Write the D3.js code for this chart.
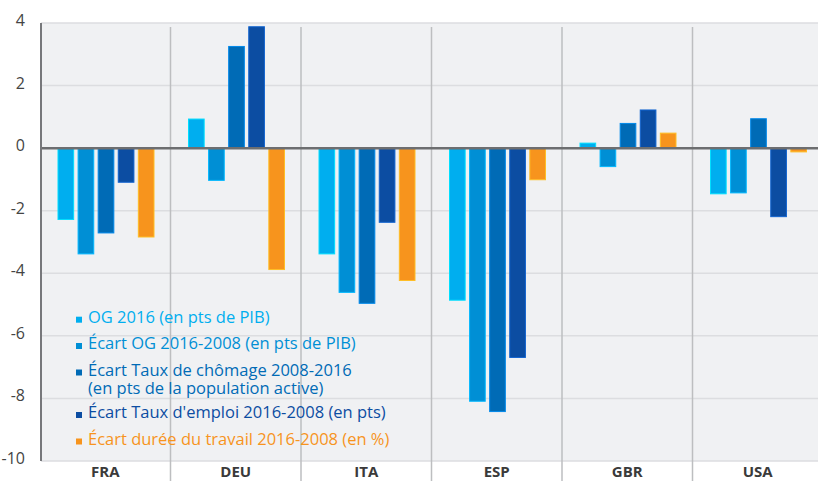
<!DOCTYPE html>
<html>
<head>
<meta charset="utf-8">
<script src="https://cdn.jsdelivr.net/npm/d3@7"></script>
<style>
  body { margin: 0; background: #fff; }
  svg { display: block; font-family: "Open Sans", sans-serif; }
  .tick-label { fill: #444; font-size: 16px; }
  .cat-label { fill: #3a3a3a; font-size: 15px; font-weight: bold; }
</style>
</head>
<body>
<svg id="chart" width="818" height="481"></svg>
<script>
var countries = ['FRA', 'DEU', 'ITA', 'ESP', 'GBR', 'USA'];
var seriesNames = [
  ['OG 2016 (en pts de PIB)'],
  ['Écart OG 2016-2008 (en pts de PIB)'],
  ['Écart Taux de chômage 2008-2016', '(en pts de la population active)'],
  ["Écart Taux d'emploi 2016-2008 (en pts)"],
  ['Écart durée du travail 2016-2008 (en %)']
];
var colors = ['#00aeef', '#008fd5', '#006bb6', '#0c4da2', '#f7941d'];
var og2016 = [-2.28, 0.93, -3.38, -4.86, 0.16, -1.46];
var ecartOG = [-3.38, -1.03, -4.61, -8.09, -0.59, -1.43];
var ecartChomage = [-2.71, 3.25, -4.96, -8.42, 0.79, 0.94];
var ecartEmploi = [-1.09, 3.88, -2.37, -6.69, 1.22, -2.19];
var ecartDuree = [-2.84, -3.88, -4.23, -1.01, 0.48, -0.12];
var yTicks = [4, 2, 0, -2, -4, -6, -8, -10];

;(function() {
  var allSeries = [og2016, ecartOG, ecartChomage, ecartEmploi, ecartDuree];

  var svg = d3.select('#chart');
  var plotTop = 23, plotBottom = 461, plotLeft = 41, plotRight = 818;

  var y = d3.scaleLinear().domain([-10, 4]).range([plotBottom, plotTop]);
  var x = d3.scaleBand().domain(countries).range([40, 823]);
  var xInner = d3.scaleBand()
    .domain(d3.range(allSeries.length))
    .range([18, 18 + 96])
    .paddingInner(0.22);

  // plot background
  svg.append('rect')
    .attr('x', plotLeft).attr('y', plotTop)
    .attr('width', plotRight - plotLeft).attr('height', plotBottom - plotTop)
    .attr('fill', '#f0f1f3');

  // horizontal grid
  svg.append('g').selectAll('line')
    .data(yTicks)
    .enter()
    .append('line')
    .attr('x1', plotLeft).attr('x2', plotRight)
    .attr('y1', function(d) { return y(d); })
    .attr('y2', function(d) { return y(d); })
    .attr('stroke', '#dcdde0')
    .attr('stroke-width', 1.5);

  // category separators
  svg.append('g').selectAll('line')
    .data(countries.slice(1))
    .enter()
    .append('line')
    .attr('x1', function(d) { return x(d); })
    .attr('x2', function(d) { return x(d); })
    .attr('y1', 27).attr('y2', 481)
    .attr('stroke', '#bdbec0')
    .attr('stroke-width', 1.5);

  // bars
  var groups = svg.append('g').selectAll('g')
    .data(allSeries)
    .enter()
    .append('g')
    .attr('fill', function(d, i) { return colors[i]; })
    .attr('stroke', function(d, i) { return d3.color(colors[i]).brighter(0.7); })
    .attr('stroke-width', 1);

  groups.each(function(values, si) {
    d3.select(this).selectAll('rect')
      .data(values)
      .enter()
      .append('rect')
      .attr('x', function(d, i) { return x(countries[i]) + xInner(si); })
      .attr('width', xInner.bandwidth())
      .attr('y', function(d) { return y(Math.max(0, d)); })
      .attr('height', function(d) { return Math.abs(y(d) - y(0)); });
  });

  // zero line
  svg.append('line')
    .attr('x1', plotLeft).attr('x2', plotRight)
    .attr('y1', y(0)).attr('y2', y(0))
    .attr('stroke', '#6d6e70')
    .attr('stroke-width', 2.5);

  // left axis
  svg.append('line')
    .attr('x1', plotLeft).attr('x2', plotLeft)
    .attr('y1', plotTop).attr('y2', plotBottom)
    .attr('stroke', '#77787b')
    .attr('stroke-width', 2);

  svg.append('g').selectAll('text')
    .data(yTicks)
    .enter()
    .append('text')
    .attr('class', 'tick-label')
    .attr('x', 25)
    .attr('y', function(d) { return y(d) + 3; })
    .attr('text-anchor', 'end')
    .text(function(d) { return d; });

  svg.append('g').selectAll('text')
    .data(countries)
    .enter()
    .append('text')
    .attr('class', 'cat-label')
    .attr('x', function(d) { return x(d) + x.bandwidth() / 2; })
    .attr('y', 477)
    .attr('text-anchor', 'middle')
    .text(function(d) { return d; });

  // legend
  var legendY = [322.7, 349, 375.5, 418, 444.5];
  var legend = svg.append('g').selectAll('g')
    .data(seriesNames)
    .enter()
    .append('g')
    .attr('transform', function(d, i) { return 'translate(0,' + legendY[i] + ')'; });

  legend.append('rect')
    .attr('x', 76).attr('y', -6)
    .attr('width', 6).attr('height', 6)
    .attr('fill', function(d, i) { return colors[i]; });

  legend.each(function(lines, i) {
    d3.select(this).selectAll('text')
      .data(lines)
      .enter()
      .append('text')
      .attr('x', 88)
      .attr('y', function(d, j) { return j * 18; })
      .attr('fill', colors[i])
      .attr('font-size', '16.5px')
      .text(function(d) { return d; });
  });
})();
</script>
</body>
</html>
